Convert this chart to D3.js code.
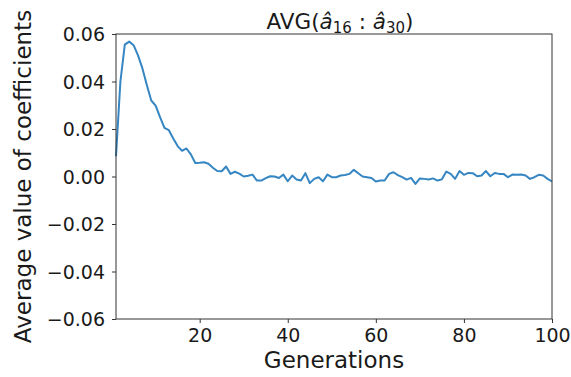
<!DOCTYPE html>
<html>
<head>
<meta charset="utf-8">
<script src="https://cdn.jsdelivr.net/npm/d3@7"></script>
<style>
  body { margin: 0; background: #fff; }
  svg { display: block; font-family: "DejaVu Sans", sans-serif; }
</style>
</head>
<body>
<svg id="chart" width="571" height="377"></svg>
<script>
const generations = d3.range(1, 101);
const avgCoef = [
  0.0085, 0.0400, 0.0555, 0.0568, 0.0553, 0.0510, 0.0455, 0.0385, 0.0320, 0.0298,
  0.0250, 0.0205, 0.0195, 0.0160, 0.0128, 0.0108, 0.0118, 0.0093, 0.0057, 0.0058,
  0.0060, 0.0054, 0.0037, 0.0023, 0.0022, 0.0042, 0.0011, 0.0020, 0.0012, 0.0000,
  0.0003, 0.0008, -0.0017, -0.0017, -0.0007, 0.0001, 0.0000, -0.0006, 0.0008, -0.0020,
  0.0004, -0.0013, -0.0017, 0.0014, -0.0028, -0.0010, -0.0003, -0.0020, 0.0008, -0.0003,
  -0.0003, 0.0004, 0.0006, 0.0011, 0.0028, 0.0014, 0.0000, -0.0003, -0.0006, -0.0021,
  -0.0017, -0.0017, 0.0011, 0.0018, 0.0006, -0.0003, -0.0013, -0.0006, -0.0031, -0.0008,
  -0.0010, -0.0013, -0.0008, -0.0017, -0.0012, 0.0021, 0.0011, -0.0010, 0.0023, 0.0007,
  0.0015, 0.0014, 0.0001, 0.0004, 0.0023, 0.0001, 0.0015, 0.0011, 0.0011, -0.0003,
  0.0008, 0.0007, 0.0008, 0.0004, -0.0010, -0.0003, 0.0007, 0.0004, -0.0010, -0.0021
];
const xTicks = [20, 40, 60, 80, 100];
const yTicks = [-0.06, -0.04, -0.02, 0.00, 0.02, 0.04, 0.06];

const margin = {left: 116, right: 19, top: 34, bottom: 58};
const W = 571, H = 377;
const svg = d3.select("#chart");

const x = d3.scaleLinear().domain([1, 100]).range([margin.left, W - margin.right]);
const y = d3.scaleLinear().domain([-0.06, 0.06]).range([H - margin.bottom, margin.top]);

const fmt = v => d3.format(".2f")(v).replace("-", "\u2212");

// axes
const xAxis = svg.append("g")
  .attr("transform", `translate(0,${H - margin.bottom})`)
  .call(d3.axisBottom(x).tickValues(xTicks).tickSize(4).tickPadding(6).tickFormat(d3.format("d")));
const yAxis = svg.append("g")
  .attr("transform", `translate(${margin.left},0)`)
  .call(d3.axisLeft(y).tickValues(yTicks).tickSize(4).tickPadding(7).tickFormat(fmt));

[xAxis, yAxis].forEach(a => {
  a.select(".domain").remove();
  a.selectAll("line").attr("stroke", "#333").attr("stroke-width", 1);
  a.selectAll("text").attr("fill", "#1a1a1a").style("font-size", "19px").style("font-family", "DejaVu Sans");
});
yAxis.selectAll("text").attr("dy", "0.36em");

// line
const line = d3.line().x((d, i) => x(generations[i])).y(d => y(d));
svg.append("path")
  .datum(avgCoef)
  .attr("fill", "none")
  .attr("stroke", "#3586c2")
  .attr("stroke-width", 2)
  .attr("stroke-linejoin", "round")
  .attr("d", line);

// frame
svg.append("rect")
  .attr("x", margin.left).attr("y", margin.top)
  .attr("width", W - margin.left - margin.right)
  .attr("height", H - margin.top - margin.bottom)
  .attr("fill", "none").attr("stroke", "#333").attr("stroke-width", 1);

// labels
svg.append("text")
  .attr("x", (margin.left + W - margin.right) / 2)
  .attr("y", 368)
  .attr("text-anchor", "middle")
  .attr("fill", "#1a1a1a")
  .style("font-size", "23px")
  .text("Generations");

svg.append("text")
  .attr("transform", `translate(31,${(margin.top + H - margin.bottom) / 2}) rotate(-90)`)
  .attr("text-anchor", "middle")
  .attr("fill", "#1a1a1a")
  .style("font-size", "23px")
  .text("Average value of coefficients");

const title = svg.append("text")
  .attr("x", 340)
  .attr("y", 29)
  .attr("text-anchor", "middle")
  .attr("fill", "#1a1a1a")
  .style("font-size", "21.5px");
title.append("tspan").text("AVG(");
title.append("tspan").style("font-style", "italic").text("\u00e2");
title.append("tspan").attr("dy", 4).style("font-size", "15px").text("16");
title.append("tspan").attr("dy", -4).text(" : ");
title.append("tspan").style("font-style", "italic").text("\u00e2");
title.append("tspan").attr("dy", 4).style("font-size", "15px").text("30");
title.append("tspan").attr("dy", -4).text(")");
</script>
</body>
</html>
